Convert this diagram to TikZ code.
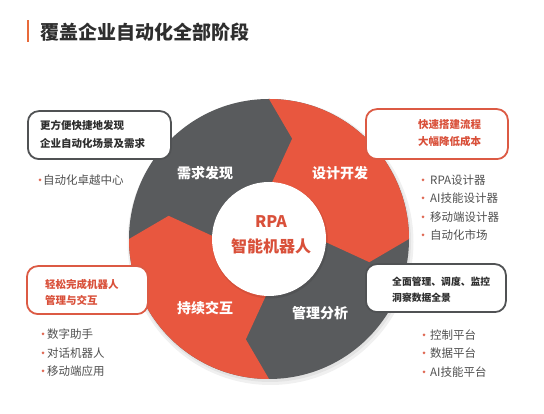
\documentclass[tikz,border=0pt]{standalone}
\usepackage{fontspec}
\setmainfont{Noto Sans CJK SC}
\usetikzlibrary{calc}
\definecolor{ringgray}{HTML}{595B5D}
\definecolor{ringred}{HTML}{E8573F}
\definecolor{txtred}{HTML}{D9503A}
\definecolor{barorange}{HTML}{E86A3A}
\definecolor{darktxt}{HTML}{2E2E2E}
\definecolor{bultxt}{HTML}{505050}
\definecolor{cardgray}{HTML}{505254}
\definecolor{cardred}{HTML}{DC5A44}
\definecolor{dotred}{HTML}{E06A55}
\begin{document}
\begin{tikzpicture}[x=1pt,y=1pt,
  seglbl/.style={text=white, font=\bfseries\fontsize{14}{14}\selectfont, inner sep=0},
  centertxt/.style={text=txtred, font=\bfseries\fontsize{16}{16}\selectfont, inner sep=0},
  boxtxt/.style={anchor=west, font=\bfseries\fontsize{10.5}{10.5}\selectfont, inner sep=0},
  bultext/.style={anchor=west, text=bultxt, font=\fontsize{11.5}{11.5}\selectfont, inner sep=0},
  bulletdot/.style={circle, fill=dotred, inner sep=0, minimum size=3pt},
  card/.style={draw, line width=1.8pt, rounded corners=11pt, fill=white, inner sep=0, anchor=south west}]
\useasboundingbox[fill=white] (0,0) rectangle (544,414);
% title
\fill[barorange] (27,372) rectangle (29,394);
\node[anchor=west, inner sep=0, text=darktxt, font=\bfseries\fontsize{19}{19}\selectfont] (title) at (40,382) {覆盖企业自动化全部阶段};
% ring
\coordinate (C) at (269,175);
\fill[black, opacity=0.06] ($(C)+(1.5,-3)$) circle[radius=143];
\fill[black, opacity=0.05] ($(C)+(1,-2)$) circle[radius=141];
\fill[ringgray] (C) circle[radius=140];
\foreach \s in {90,-90}{
  \fill[ringred] (C) ++(\s:140) arc[start angle=\s, end angle=\s-90, radius=140]
    -- ($(C)+(\s-103:103)$) -- ($(C)+(\s-90:50)$)
    arc[start angle=\s-90, end angle=\s, radius=50]
    -- ($(C)+(\s-13:103)$) -- cycle;
}
\fill[black, opacity=0.08] ($(C)+(1,-1.5)$) circle[radius=58];
\fill[white] (C) circle[radius=57];
\node[seglbl] (s1) at (205,241) {需求发现};
\node[seglbl] (s2) at (340,241) {设计开发};
\node[seglbl] (s3) at (320,101) {管理分析};
\node[seglbl] (s4) at (205,106) {持续交互};
\node[centertxt] (rpa) at (271,192) {RPA};
\node[centertxt] (robot) at (271,168) {智能机器人};
% card 1
\node[card, draw=cardgray, minimum width=143pt, minimum height=48pt] (b1) at (27,254) {};
\node[boxtxt, text=darktxt] (b1a) at (40,289) {更方便快捷地发现};
\node[boxtxt, text=darktxt] (b1b) at (40,271) {企业自动化场景及需求};
\node[bulletdot] (d11) at (40,234) {};
\node[bultext] (t11) at (43,234) {自动化卓越中心};
% card 2
\node[card, draw=cardred, minimum width=142pt, minimum height=50pt] (b2) at (365,254) {};
\node[boxtxt, text=txtred] (b2a) at (418,289) {快速搭建流程};
\node[boxtxt, text=txtred] (b2b) at (418,272) {大幅降低成本};
\node[bulletdot] (d21) at (423,234) {};
\node[bultext] (t21) at (430,234) {RPA设计器};
\node[bulletdot] (d22) at (423,216) {};
\node[bultext] (t22) at (430,216) {AI技能设计器};
\node[bulletdot] (d23) at (423,197) {};
\node[bultext] (t23) at (430,197) {移动端设计器};
\node[bulletdot] (d24) at (423,179) {};
\node[bultext] (t24) at (430,179) {自动化市场};
% card 3
\node[card, draw=cardred, minimum width=121pt, minimum height=48pt] (b3) at (26,99) {};
\node[boxtxt, text=txtred] (b3a) at (45,129) {轻松完成机器人};
\node[boxtxt, text=txtred] (b3b) at (45,114) {管理与交互};
\node[bulletdot] (d31) at (43,80) {};
\node[bultext] (t31) at (47,80) {数字助手};
\node[bulletdot] (d32) at (43,61) {};
\node[bultext] (t32) at (47,61) {对话机器人};
\node[bulletdot] (d33) at (43,43) {};
\node[bultext] (t33) at (47,43) {移动端应用};
% card 4
\node[card, draw=cardgray, minimum width=140pt, minimum height=48pt] (b4) at (365,101) {};
\node[boxtxt, text=darktxt, font=\bfseries\fontsize{9.8}{9.8}\selectfont] (b4a) at (392,132) {全面管理、调度、监控};
\node[boxtxt, text=darktxt, font=\bfseries\fontsize{9.8}{9.8}\selectfont] (b4b) at (392,116) {洞察数据全景};
\node[bulletdot] (d41) at (424,79) {};
\node[bultext] (t41) at (430,79) {控制平台};
\node[bulletdot] (d42) at (424,61) {};
\node[bultext] (t42) at (430,61) {数据平台};
\node[bulletdot] (d43) at (424,42) {};
\node[bultext] (t43) at (430,42) {AI技能平台};
\end{tikzpicture}
\end{document}
